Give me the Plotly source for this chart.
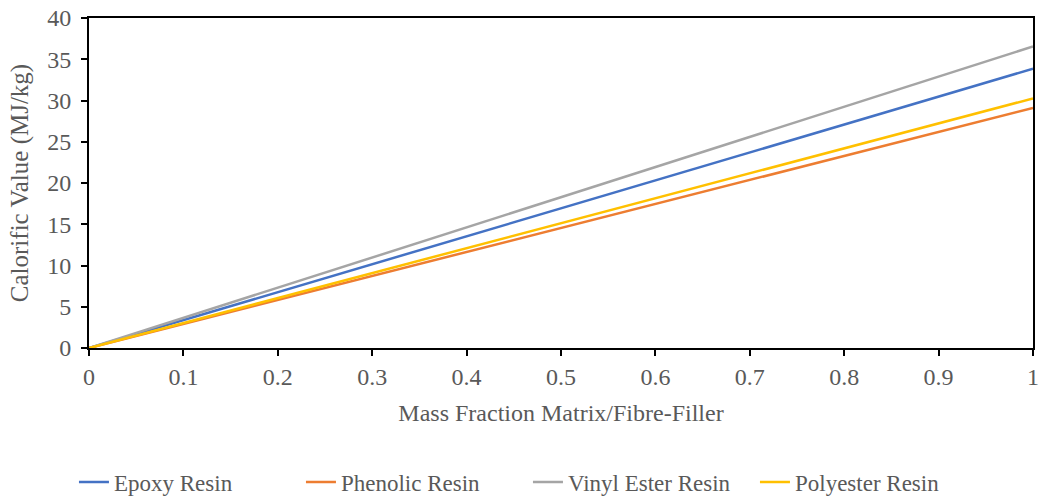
import plotly.graph_objects as go

mass_fraction = [0, 1]
epoxy = [0, 33.85]
phenolic = [0, 29.1]
vinyl_ester = [0, 36.55]
polyester = [0, 30.25]

series = [
    ("Epoxy Resin", epoxy, "#4472C4"),
    ("Phenolic Resin", phenolic, "#ED7D31"),
    ("Vinyl Ester Resin", vinyl_ester, "#A5A5A5"),
    ("Polyester Resin", polyester, "#FFC000"),
]

fig = go.Figure()
for name, vals, color in series:
    fig.add_trace(go.Scatter(x=mass_fraction, y=vals, mode="lines", name=name,
                             line=dict(color=color, width=2.5)))

font_family = "Liberation Serif, Times New Roman, serif"
fig.update_layout(
    width=1040, height=496,
    margin=dict(l=89, r=7, t=18, b=148, autoexpand=False),
    plot_bgcolor="white", paper_bgcolor="white",
    font=dict(family=font_family, color="#595959", size=23),
    showlegend=True,
    legend=dict(orientation="h", x=0.465, xanchor="center", y=-0.406, yanchor="middle",
                font=dict(size=23, color="#595959"), entrywidth=182, tracegroupgap=0),
)
fig.update_xaxes(
    range=[0, 1], tickmode="array",
    tickvals=[0, 0.1, 0.2, 0.3, 0.4, 0.5, 0.6, 0.7, 0.8, 0.9, 1],
    ticktext=["0", "0.1", "0.2", "0.3", "0.4", "0.5", "0.6", "0.7", "0.8", "0.9", "1"],
    tickfont=dict(size=24),
    showgrid=False, zeroline=False, automargin=False,
    showline=True, linecolor="black", linewidth=2, mirror=True,
    ticks="outside", tickcolor="black", ticklen=6, tickwidth=1.5,
    title=dict(text="Mass Fraction Matrix/Fibre-Filler", font=dict(size=24), standoff=15),
)
fig.update_yaxes(
    range=[0, 40], dtick=5, tickfont=dict(size=24), ticklabelstandoff=5,
    showgrid=False, zeroline=False, automargin=False,
    showline=True, linecolor="black", linewidth=2, mirror=True,
    ticks="outside", tickcolor="black", ticklen=6, tickwidth=1.5,
    title=dict(text="Calorific Value (MJ/kg)", font=dict(size=25), standoff=11),
)

fig.write_html("out.html")
